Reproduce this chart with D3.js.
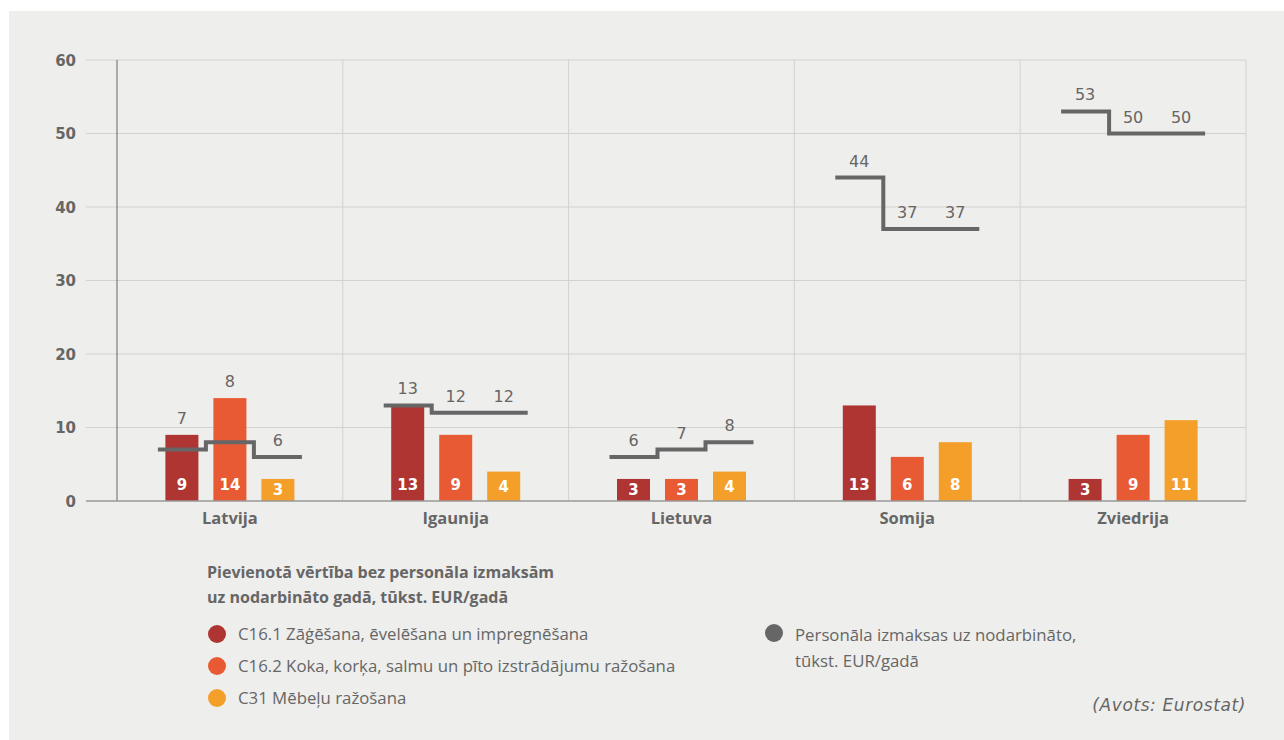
<!DOCTYPE html>
<html>
<head>
<meta charset="utf-8">
<script src="https://cdn.jsdelivr.net/npm/d3@7"></script>
<style>
  html, body { margin: 0; padding: 0; background: #ffffff; }
  svg { display: block; }
</style>
</head>
<body>
<svg id="chart" width="1284" height="740"></svg>
<script>
// ---- Data ----
const categories = ["Latvija", "Igaunija", "Lietuva", "Somija", "Zviedrija"];
const seriesKeys = ["C16.1", "C16.2", "C31"];
const seriesNames = [
  "C16.1 Zāģēšana, ēvelēšana un impregnēšana",
  "C16.2 Koka, korķa, salmu un pīto izstrādājumu ražošana",
  "C31 Mēbeļu ražošana"
];
const valuesC161 = [9, 13, 3, 13, 3];
const valuesC162 = [14, 9, 3, 6, 9];
const valuesC31 = [3, 4, 4, 8, 11];
// personnel costs per employee, for each category: [C16.1, C16.2, C31]
const personnelLatvija = [7, 8, 6];
const personnelIgaunija = [13, 12, 12];
const personnelLietuva = [6, 7, 8];
const personnelSomija = [44, 37, 37];
const personnelZviedrija = [53, 50, 50];
const yTicks = [0, 10, 20, 30, 40, 50, 60];
const legendTitle = ["Pievienotā vērtība bez personāla izmaksām", "uz nodarbināto gadā, tūkst. EUR/gadā"];
const lineLegend = ["Personāla izmaksas uz nodarbināto,", "tūkst. EUR/gadā"];
const sourceText = "(Avots: Eurostat)";

const barValues = [valuesC161, valuesC162, valuesC31];
const personnel = [personnelLatvija, personnelIgaunija, personnelLietuva, personnelSomija, personnelZviedrija];
const colors = ["#ae3531", "#e85a33", "#f49f29"];
const lineColor = "#666666";
const textColor = "#666666";
const numFont = "'DejaVu Sans', sans-serif";
const textFont = "'Open Sans', sans-serif";

// ---- Layout ----
const svg = d3.select("#chart").attr("font-family", textFont);
svg.append("rect").attr("x", 9).attr("y", 11).attr("width", 1284 - 9).attr("height", 740 - 11).attr("fill", "#eeeeec");

const plotLeft = 117, plotRight = 1246, gridLeft = 86;
const y = d3.scaleLinear().domain([0, 60]).range([501, 60]);
const x = d3.scaleBand().domain(categories).range([plotLeft, plotRight]).padding(0);
const xs = d3.scaleBand().domain(seriesKeys).range([-72, 72]).padding(0);
const barW = 33;

const g = svg.append("g");

// horizontal grid
g.append("g").selectAll("line").data(yTicks.filter(d => d > 0)).join("line")
  .attr("x1", gridLeft).attr("x2", plotRight)
  .attr("y1", d => y(d)).attr("y2", d => y(d))
  .attr("stroke", "#d2d2d0").attr("stroke-width", 1);

// vertical category separators
const seps = categories.slice(1).map(c => x(c)).concat([plotRight]);
g.append("g").selectAll("line").data(seps).join("line")
  .attr("x1", d => d).attr("x2", d => d)
  .attr("y1", y(60)).attr("y2", y(0))
  .attr("stroke", "#d2d2d0").attr("stroke-width", 1);

// y axis line
g.append("line").attr("x1", plotLeft).attr("x2", plotLeft).attr("y1", y(60)).attr("y2", y(0))
  .attr("stroke", "#666").attr("stroke-width", 1);

// y tick labels
const yAxis = d3.axisLeft(y).tickValues(yTicks).tickSize(0).tickPadding(0);
const ya = g.append("g").attr("transform", `translate(76,0)`).call(yAxis);
ya.select(".domain").remove();
ya.attr("font-family", null).attr("font-size", null);
ya.selectAll("text").style("font-size", "15px").style("font-weight", 700).attr("fill", textColor)
  .style("font-family", numFont).attr("dy", "0.36em");

// bars
categories.forEach((cat, ci) => {
  seriesKeys.forEach((k, si) => {
    const v = barValues[si][ci];
    const bx = x(cat) + x.bandwidth() / 2 + xs(k) + (xs.bandwidth() - barW) / 2;
    g.append("rect").attr("x", bx).attr("y", y(v)).attr("width", barW).attr("height", y(0) - y(v))
      .attr("fill", colors[si]);
    const cy = Math.max(485, (y(v) + y(0)) / 2);
    g.append("text").attr("x", bx + barW / 2).attr("y", cy).attr("dy", "0.36em")
      .attr("text-anchor", "middle").style("font-size", "15px").style("font-weight", 700)
      .style("font-family", numFont).attr("fill", "#ffffff").text(v);
  });
});

// bottom axis line
g.append("line").attr("x1", gridLeft).attr("x2", plotRight).attr("y1", y(0)).attr("y2", y(0))
  .attr("stroke", "#999").attr("stroke-width", 1.5);

// category labels
const xAxis = d3.axisBottom(x).tickSize(0).tickPadding(0);
const xa = g.append("g").attr("transform", `translate(0,${y(0) + 23})`).call(xAxis);
xa.select(".domain").remove();
xa.attr("font-family", null).attr("font-size", null);
xa.selectAll("text").style("font-size", "16.5px").style("font-weight", 700).attr("fill", textColor)
  .style("font-family", textFont).attr("dy", "0");

// step lines
const line = d3.line().x(d => d[0]).y(d => y(d[1]));
categories.forEach((cat, ci) => {
  const pts = [];
  seriesKeys.forEach((k, si) => {
    const x0 = x(cat) + x.bandwidth() / 2 + xs(k);
    pts.push([x0, personnel[ci][si]]);
    pts.push([x0 + xs.bandwidth(), personnel[ci][si]]);
  });
  g.append("path").attr("d", line(pts)).attr("fill", "none")
    .attr("stroke", lineColor).attr("stroke-width", 4);
  seriesKeys.forEach((k, si) => {
    const cx = x(cat) + x.bandwidth() / 2 + xs(k) + xs.bandwidth() / 2;
    const top = Math.min(y(barValues[si][ci]), y(personnel[ci][si]));
    g.append("text").attr("x", cx).attr("y", top - 11).attr("text-anchor", "middle")
      .style("font-size", "16px").style("font-family", numFont).attr("fill", textColor).text(personnel[ci][si]);
  });
});

// legend
const lg = svg.append("g");
legendTitle.forEach((t, i) => {
  lg.append("text").attr("x", 207).attr("y", 578 + i * 25).style("font-size", "16px").style("font-weight", 700)
    .attr("fill", textColor).text(t);
});
seriesNames.forEach((t, i) => {
  const cy = 634 + i * 32;
  lg.append("circle").attr("cx", 217).attr("cy", cy).attr("r", 9).attr("fill", colors[i]);
  lg.append("text").attr("x", 238).attr("y", cy + 6).style("font-size", "16.8px").attr("fill", textColor).text(t);
});
lg.append("circle").attr("cx", 774).attr("cy", 633).attr("r", 9).attr("fill", lineColor);
lineLegend.forEach((t, i) => {
  lg.append("text").attr("x", 795).attr("y", 641 + i * 26).style("font-size", "16.8px").attr("fill", textColor).text(t);
});
lg.append("text").attr("x", 1246).attr("y", 711).attr("text-anchor", "end").style("font-size", "17px")
  .style("letter-spacing", "0.6px")
  .style("font-family", numFont).style("font-style", "italic").attr("fill", textColor).text(sourceText);
</script>
</body>
</html>
